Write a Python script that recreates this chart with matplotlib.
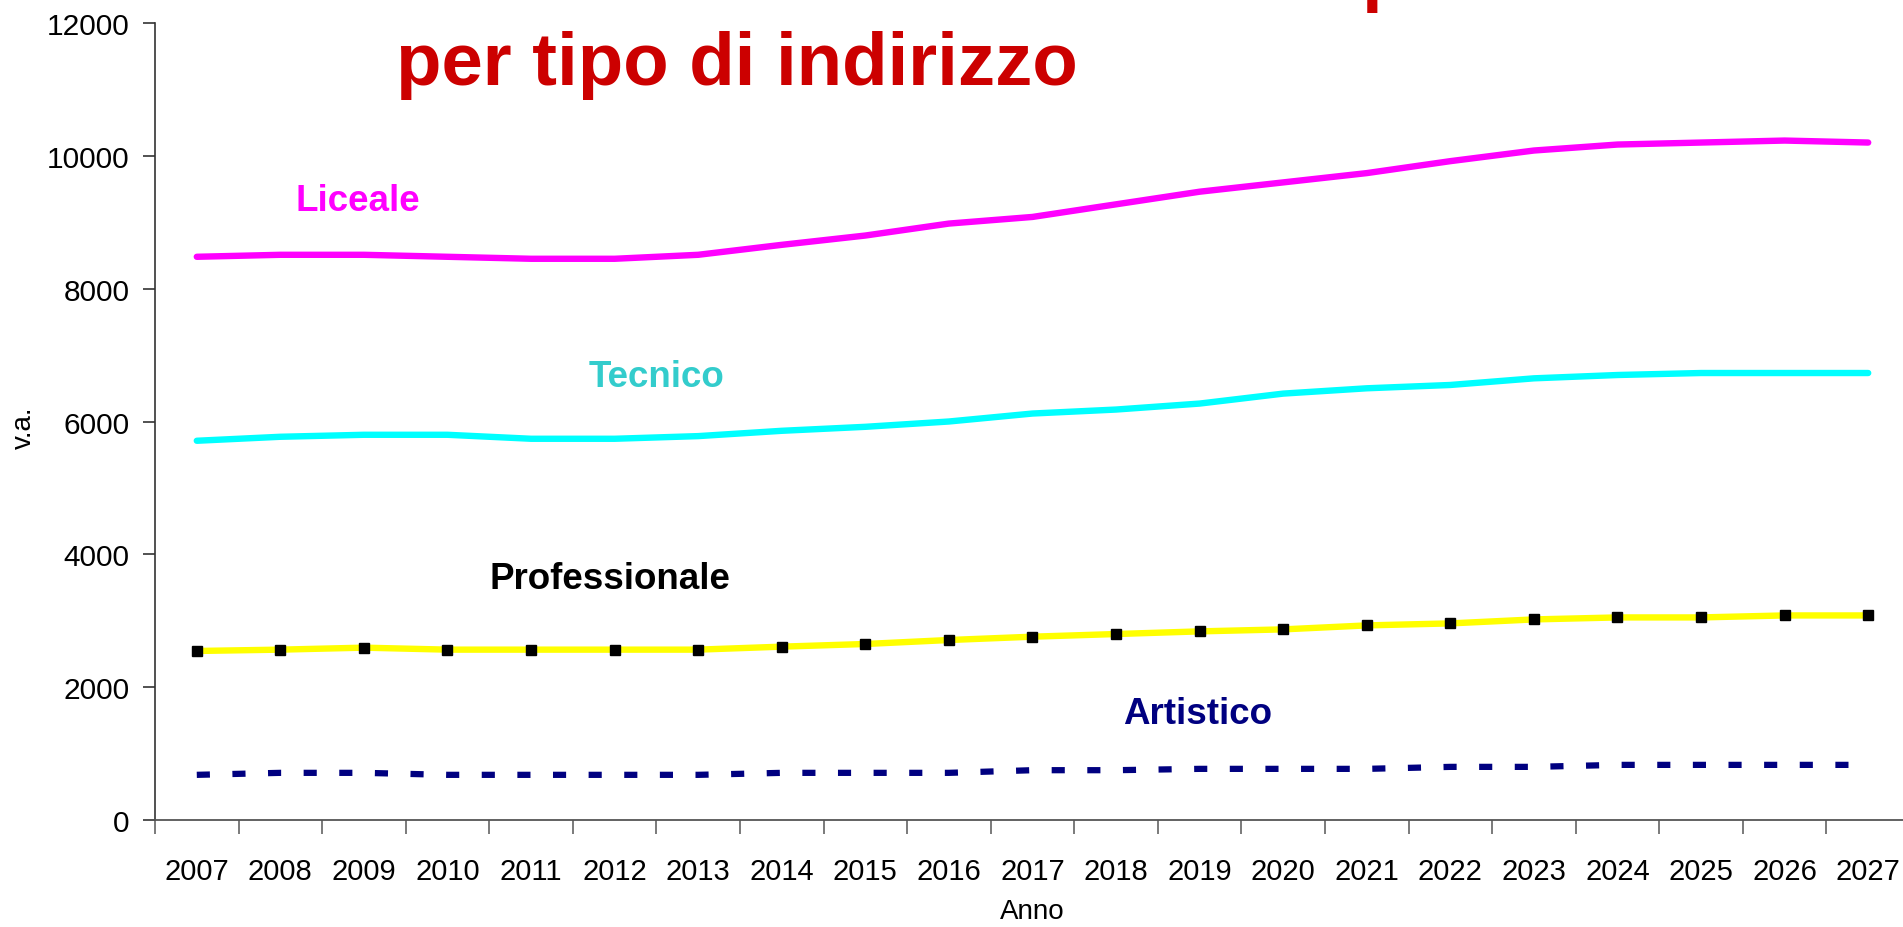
import matplotlib
matplotlib.use("Agg")
import matplotlib.pyplot as plt
import numpy as np

plt.rcParams['font.family'] = ['Liberation Sans', 'DejaVu Sans']

# dati (valori assoluti)
anni = [str(a) for a in range(2007, 2028)]
liceale = [8480, 8510, 8510, 8480, 8450, 8450, 8510, 8660, 8800, 8980, 9080,
           9270, 9460, 9600, 9740, 9920, 10080, 10170, 10200, 10230, 10200]
tecnico = [5710, 5770, 5800, 5800, 5740, 5740, 5780, 5860, 5920, 6000, 6120,
           6180, 6270, 6420, 6500, 6550, 6650, 6700, 6730, 6730, 6730]
professionale = [2545, 2565, 2595, 2565, 2565, 2565, 2565, 2610, 2650, 2710, 2760,
                 2800, 2840, 2870, 2930, 2960, 3020, 3050, 3050, 3080, 3080]
artistico = [680, 710, 710, 680, 680, 680, 680, 710, 710, 710, 750,
             750, 770, 770, 770, 800, 800, 830, 830, 830, 830]
y_ticks = [0, 2000, 4000, 6000, 8000, 10000, 12000]

fig = plt.figure(figsize=(19.03, 9.28), dpi=100)
ax = fig.add_axes([155/1903, 1 - 821/928, (1910 - 155)/1903, (821 - 24)/928])

x = np.arange(len(anni))
ax.plot(x, liceale, color='#FF00FF', lw=4.6, solid_capstyle='round', solid_joinstyle='round')
ax.plot(x, tecnico, color='#00FFFF', lw=4.6, solid_capstyle='round', solid_joinstyle='round')
ax.plot(x, professionale, color='#FFFF00', lw=4.6, marker='s', markersize=6.8,
        markerfacecolor='black', markeredgecolor='black')
ax.plot(x, artistico, color='#000080', lw=4.5, dashes=(2.1, 3.6), dash_capstyle='butt')

ax.set_xlim(-0.5, len(anni) - 0.5)
ax.set_ylim(0, 12000)

ax.set_xticks(np.arange(-0.5, len(anni), 1))
ax.set_xticklabels([])
ax.set_xticks(x, minor=True)
ax.set_xticklabels(anni, minor=True, fontsize=21)
ax.tick_params(axis='x', which='major', direction='out', length=10, width=1.3, color='#707070')
ax.tick_params(axis='x', which='minor', length=0, pad=26.5)

ax.set_yticks(y_ticks)
ax.set_yticklabels([str(v) for v in y_ticks], fontsize=21.5)
ax.tick_params(axis='y', direction='out', length=9, width=1.2, color='#333333', pad=9.5)

for s in ['top', 'right']:
    ax.spines[s].set_visible(False)
ax.spines['left'].set_color('#333333')
ax.spines['left'].set_linewidth(1.2)
ax.spines['bottom'].set_color('#555555')
ax.spines['bottom'].set_linewidth(1.3)

# etichette delle serie
ax.text(1.93, 9330, 'Liceale', color='#FF00FF', fontsize=26.5, fontweight='bold', ha='center', va='center')
ax.text(5.50, 6680, 'Tecnico', color='#33CCCC', fontsize=26.5, fontweight='bold', ha='center', va='center')
ax.text(4.94, 3640, 'Professionale', color='black', fontsize=26.5, fontweight='bold', ha='center', va='center')
ax.text(11.97, 1610, 'Artistico', color='#000080', fontsize=26.5, fontweight='bold', ha='center', va='center')

fig.text(24/1903, 1 - 428/928, 'v.a.', rotation=90, fontsize=20, ha='center', va='center')
fig.text(1032/1903, 1 - 912/928, 'Anno', fontsize=20, ha='center', va='center')

# titolo (la prima riga è tagliata fuori dall'immagine)
fig.text(737/1903, 1 - 85/928, 'per tipo di indirizzo', color='#CC0000', fontsize=53.6,
         fontweight='bold', ha='center', va='baseline')
fig.text(1361/1903, 1 + 2/928, 'p', color='#CC0000', fontsize=53.6,
         fontweight='bold', ha='left', va='baseline')

fig.savefig('out.png', dpi=100)
